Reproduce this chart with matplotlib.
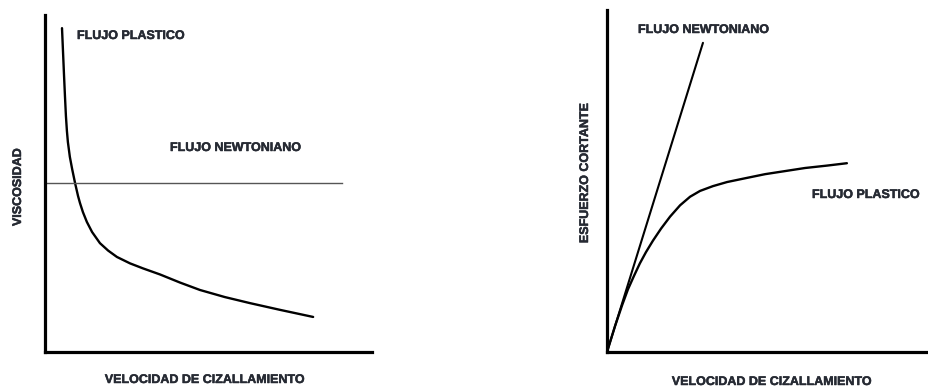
import matplotlib
matplotlib.use("Agg")
import matplotlib.pyplot as plt
import matplotlib.patheffects as pe

W, H = 929, 390

# curva de viscosidad (flujo plastico), unidades arbitrarias 0-100
visc_x = [5.2, 5.5, 5.8, 6.1, 6.4, 6.7, 7.0, 7.6, 8.3, 9.2, 10.1, 10.7, 11.6, 12.8,
          14.4, 16.8, 19.3, 22.0, 26.0, 30.0, 35.2, 41.3, 47.4, 55.0, 62.7, 71.9, 82.0]
visc_y = [96.1, 89.3, 82.5, 76.0, 70.0, 65.6, 62.3, 57.9, 54.3, 50.1, 46.3, 44.2, 41.5, 38.6,
          35.6, 32.3, 30.1, 28.2, 26.3, 24.8, 23.0, 20.6, 18.4, 16.3, 14.5, 12.5, 10.4]
# viscosidad constante (flujo newtoniano)
newt_visc_x = [0.6, 90.8]
newt_visc_y = [50.1, 50.1]

# esfuerzo cortante
newt_x = [0.0, 29.8]
newt_y = [0.0, 90.4]
plast_x = [0.0, 2.5, 4.7, 6.5, 8.4, 10.2, 12.1, 14.3, 16.8, 19.6, 22.7, 25.8, 28.9,
           32.9, 37.3, 42.9, 49.1, 55.3, 61.5, 68.3, 74.5]
plast_y = [0.0, 7.6, 13.7, 18.3, 22.3, 25.9, 29.2, 32.6, 36.1, 39.6, 42.9, 45.4, 47.1,
           48.5, 49.7, 50.8, 52.0, 52.9, 53.8, 54.5, 55.2]

ink = "#262a33"
txt = dict(fontfamily="Liberation Sans", fontweight="bold", fontsize=9, color=ink,
           path_effects=[pe.withStroke(linewidth=0.35, foreground=ink)])


def px(x, y):
    return x / W, 1 - y / H


fig = plt.figure(figsize=(W / 100, H / 100), dpi=100)

ax1 = fig.add_axes([45 / W, 38 / H, 327 / W, 337 / H])
ax2 = fig.add_axes([607 / W, 38 / H, 322 / W, 342 / H])

for ax in (ax1, ax2):
    ax.set_xlim(0, 100)
    ax.set_ylim(0, 100)
    ax.set_xticks([])
    ax.set_yticks([])
    ax.spines["top"].set_visible(False)
    ax.spines["right"].set_visible(False)
    ax.spines["left"].set_linewidth(2.3)
    ax.spines["bottom"].set_linewidth(2.3)
    ax.patch.set_alpha(0)

ax1.plot(visc_x, visc_y, color="black", lw=1.7, solid_joinstyle="round", solid_capstyle="round")
ax1.plot(newt_visc_x, newt_visc_y, color="#555555", lw=1.0)

ax2.plot(newt_x, newt_y, color="black", lw=1.5, solid_capstyle="round")
ax2.plot(plast_x, plast_y, color="black", lw=1.7, solid_joinstyle="round", solid_capstyle="round")

fig.text(*px(77, 36), "FLUJO PLASTICO", ha="left", va="center", **txt)
fig.text(*px(170, 148), "FLUJO NEWTONIANO", ha="left", va="center", **txt)
fig.text(*px(18, 187), "VISCOSIDAD", ha="center", va="center", rotation=90, **txt)
fig.text(*px(205, 380), "VELOCIDAD DE CIZALLAMIENTO", ha="center", va="center", **txt)

fig.text(*px(638, 30), "FLUJO NEWTONIANO", ha="left", va="center", **txt)
fig.text(*px(812, 195), "FLUJO PLASTICO", ha="left", va="center", **txt)
fig.text(*px(585, 173), "ESFUERZO CORTANTE", ha="center", va="center", rotation=90, **txt)
fig.text(*px(772, 382), "VELOCIDAD DE CIZALLAMIENTO", ha="center", va="center", **txt)

fig.savefig("out.png", dpi=100, facecolor="white")
